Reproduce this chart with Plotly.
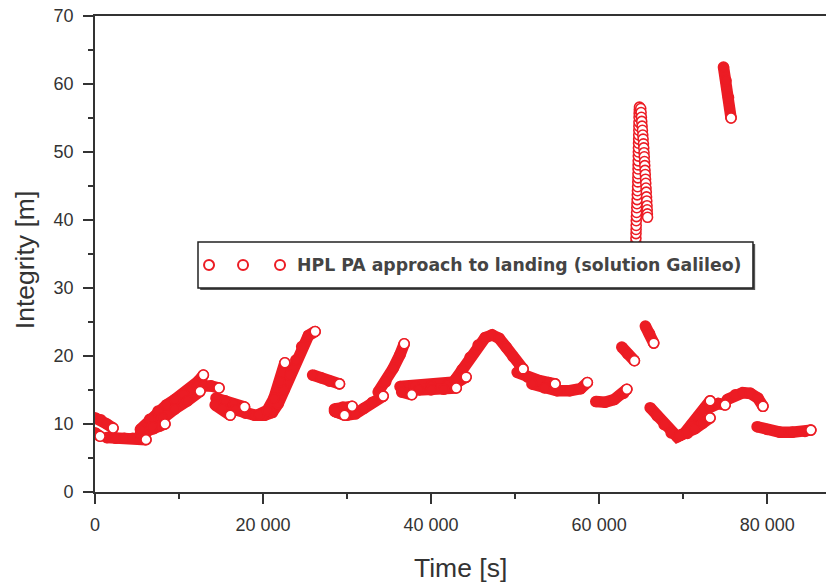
import plotly.graph_objects as go

# HPL values for the Galileo PA approach-to-landing solution.
# Each inner list is one continuous arc of the time series.
arc_time = [
    [0, 700, 1400, 2150],
    [0, 600],
    [1400, 2500, 3500, 4500, 5500, 6070],
    [5400, 6200, 7000, 7700, 8330],
    [5400, 6500, 7500, 8500, 9500, 10500, 11500, 12300, 12900],
    [6800, 8000, 9500, 11000, 12500],
    [12200, 13000, 13800, 14760],
    [14400, 15500, 16500, 17800],
    [14300, 15200, 16100],
    [16700, 17900, 19000, 20200, 21100, 21800, 22500, 23200, 23900, 24600, 25400, 26200],
    [19500, 20500, 21300, 22000, 22600],
    [25900, 26900, 27900, 29100],
    [28500, 29500, 30600],
    [28500, 29700],
    [28600, 30000, 31000, 32000, 33000, 34300],
    [33700, 34600, 35500, 36300, 36800],
    [36300, 38000, 40000, 42000, 43200, 44170],
    [36500, 37700],
    [38500, 40000, 41500, 43000],
    [42860, 43690, 44640, 45600, 46430, 47260, 48100, 48930, 49760, 50600, 50950],
    [50240, 51500, 52800, 54000, 54760],
    [52000, 53500, 55000, 56500, 57800, 58600],
    [59600, 60700, 61800, 62900, 63300],
    [62700, 63400, 64200],
    [65500, 66000, 66500],
    [66070, 66900, 67740, 68570, 69290, 70120, 70950, 71780, 72620, 73210],
    [69600, 70500, 71400, 72300, 73200],
    [72400, 73200, 74200, 75000],
    [74800, 75100, 75400, 75700],
    [75240, 76200, 77100, 78000, 78900, 79500],
    [78800, 80000, 81500, 83000, 84500, 85200],
]
arc_hpl = [
    [10.9, 10.6, 10.0, 9.4],
    [8.7, 8.2],
    [8.0, 7.9, 7.9, 7.9, 7.8, 7.7],
    [8.6, 8.9, 9.3, 9.7, 10.0],
    [9.2, 10.7, 11.9, 12.8, 13.6, 14.4, 15.2, 16.3, 17.2],
    [9.6, 10.9, 12.2, 13.4, 14.8],
    [15.6, 15.7, 15.6, 15.3],
    [13.8, 13.4, 12.9, 12.5],
    [12.8, 12.2, 11.3],
    [12.1, 11.6, 11.3, 11.3, 11.7, 13.0, 15.0, 17.2, 19.4, 21.4, 23.0, 23.6],
    [11.4, 12.0, 13.8, 16.2, 19.0],
    [17.2, 16.8, 16.3, 15.9],
    [12.2, 12.5, 12.6],
    [11.9, 11.3],
    [11.8, 11.3, 11.5, 12.3, 13.2, 14.1],
    [14.7, 16.2, 18.2, 20.2, 21.8],
    [15.5, 15.6, 15.6, 15.8, 16.2, 16.9],
    [14.7, 14.3],
    [15.0, 15.0, 15.1, 15.3],
    [16.5, 18.0, 19.8, 21.6, 22.7, 23.1, 22.6, 21.3, 19.9, 18.5, 18.1],
    [17.6, 16.9, 16.4, 16.1, 15.9],
    [15.9, 15.3, 14.9, 14.9, 15.2, 16.1],
    [13.3, 13.2, 13.6, 14.5, 15.1],
    [21.3, 20.3, 19.3],
    [24.4, 23.3, 21.9],
    [12.4, 11.2, 9.9, 8.7, 8.1, 8.6, 9.8, 11.1, 12.4, 13.4],
    [8.3, 8.6, 9.3, 10.1, 10.9],
    [12.0, 12.6, 13.0, 12.8],
    [62.5, 60.5, 58.0, 55.0],
    [13.6, 14.3, 14.6, 14.5, 13.8, 12.6],
    [9.6, 9.2, 8.8, 8.8, 8.9, 9.1],
]

# Sparse samples of the integrity spike near 65 000 s (rise, then fall)
spike_time = [
    64280, 64290, 64300, 64310, 64320, 64330, 64340, 64350, 64360, 64370,
    64380, 64390, 64400, 64410, 64420, 64440, 64460, 64480, 64500, 64520,
    64540, 64560, 64580, 64600, 64610, 64620, 64630, 64640, 64650, 64660,
    64670, 64680, 64690, 64700, 64710, 64720, 64730, 64740, 64750, 64760,
    64780, 64800,
    64950, 64990, 65030, 65070, 65110, 65150, 65190, 65230, 65270, 65310,
    65340, 65370, 65400, 65430, 65460, 65490, 65520, 65550, 65580, 65610,
    65640, 65670, 65700, 65720, 65740, 65760,
]
spike_hpl = [
    31.0, 31.6, 32.3, 32.9, 33.5, 34.2, 34.8, 35.4, 36.1, 36.7,
    37.3, 38.0, 38.6, 39.2, 39.9, 40.5, 41.1, 41.8, 42.4, 43.0,
    43.7, 44.3, 44.9, 45.6, 46.2, 46.8, 47.5, 48.1, 48.7, 49.4,
    50.0, 50.6, 51.3, 51.9, 52.5, 53.2, 53.8, 54.4, 55.1, 55.7,
    56.2, 56.6,
    56.4, 55.8, 55.1, 54.5, 53.8, 53.2, 52.5, 51.9, 51.2, 50.6,
    49.9, 49.3, 48.6, 48.0, 47.3, 46.7, 46.0, 45.4, 44.7, 44.1,
    43.4, 42.8, 42.1, 41.5, 40.9, 40.4,
]

x_tickvals = [0, 20000, 40000, 60000, 80000]
x_ticktext = ["0", "20 000", "40 000", "60 000", "80 000"]
legend_label = "HPL PA approach to landing (solution Galileo)"

RED = "#ec1c24"
AXIS = "#333333"
MARK = 10

# dense arcs: overlapping circles merge into a continuous band
band_x, band_y = [], []
for t, v in zip(arc_time, arc_hpl):
    band_x += t + [None]
    band_y += v + [None]

# the last sample of every arc stays visible as an open circle
end_x = [t[-1] for t in arc_time]
end_y = [v[-1] for v in arc_hpl]

fig = go.Figure()
fig.add_trace(go.Scatter(
    x=band_x, y=band_y, mode="lines+markers",
    line=dict(color=RED, width=MARK + 1.5),
    marker=dict(size=MARK, color=RED, line=dict(color=RED, width=1.6)),
    hoverinfo="skip", showlegend=False,
))
fig.add_trace(go.Scatter(
    x=spike_time, y=spike_hpl, mode="markers",
    marker=dict(size=MARK, color="white", line=dict(color=RED, width=1.6)),
    showlegend=False,
))
fig.add_trace(go.Scatter(
    x=end_x, y=end_y, mode="markers",
    marker=dict(size=MARK, color="white", line=dict(color=RED, width=1.6)),
    showlegend=False,
))

# legend box drawn over the data, with three sample markers
box_x0, box_x1, box_y0, box_y1 = 0.1409, 0.9001, 0.4286, 0.5252
shapes = [
    dict(type="rect", xref="paper", yref="paper",
         x0=box_x0 + 0.003, x1=box_x1 + 0.003, y0=box_y0 - 0.004, y1=box_y1 - 0.004,
         fillcolor="#555555", line=dict(width=0), layer="above"),
    dict(type="rect", xref="paper", yref="paper",
         x0=box_x0, x1=box_x1, y0=box_y0, y1=box_y1,
         fillcolor="white", line=dict(color="#222222", width=1.5), layer="above"),
]
for cx in [0.156, 0.2025, 0.2531]:
    shapes.append(dict(
        type="circle", xref="paper", yref="paper",
        xsizemode="pixel", ysizemode="pixel", xanchor=cx, yanchor=0.4769,
        x0=-5, x1=5, y0=-5, y1=5,
        fillcolor="white", line=dict(color=RED, width=2), layer="above",
    ))

annotations = [
    dict(text=legend_label, xref="paper", yref="paper", x=0.273, y=0.4769,
         xanchor="left", yanchor="middle", showarrow=False,
         font=dict(family="DejaVu Sans", size=17.3, weight="bold", color="#444444")),
    dict(text="Time [s]", xref="paper", yref="paper", x=0.5, y=-0.1597,
         xanchor="center", yanchor="middle", showarrow=False,
         font=dict(family="Liberation Sans, Arial", size=26.5, color=AXIS)),
    dict(text="Integrity [m]", xref="paper", yref="paper", x=-0.0958, y=0.487,
         xanchor="center", yanchor="middle", textangle=-90, showarrow=False,
         font=dict(family="Liberation Sans, Arial", size=26.5, color=AXIS)),
]

fig.update_layout(
    width=826, height=587,
    margin=dict(l=95, r=0, t=16, b=95),
    paper_bgcolor="white", plot_bgcolor="white",
    shapes=shapes, annotations=annotations,
    showlegend=False,
    font=dict(family="Liberation Sans, Arial", size=18, color=AXIS),
)
fig.update_xaxes(
    range=[0, 87000], tickmode="array", tickvals=x_tickvals, ticktext=x_ticktext,
    ticks="outside", ticklen=10, tickwidth=1.5, tickcolor=AXIS,
    showline=True, linecolor=AXIS, linewidth=1.8, mirror=True,
    showgrid=False, zeroline=False, ticklabelstandoff=5,
    minor=dict(tickmode="array", tickvals=[10000, 30000, 50000, 70000],
               ticks="outside", ticklen=5, tickwidth=1.5, tickcolor=AXIS),
)
fig.update_yaxes(
    range=[0, 70], tickmode="linear", tick0=0, dtick=10,
    ticks="outside", ticklen=10, tickwidth=1.5, tickcolor=AXIS,
    showline=True, linecolor=AXIS, linewidth=1.8, mirror=False,
    showgrid=False, zeroline=False, ticklabelstandoff=6,
    minor=dict(tick0=0, dtick=5, ticks="outside", ticklen=5,
               tickwidth=1.5, tickcolor=AXIS),
)

fig.write_html("out.html")
